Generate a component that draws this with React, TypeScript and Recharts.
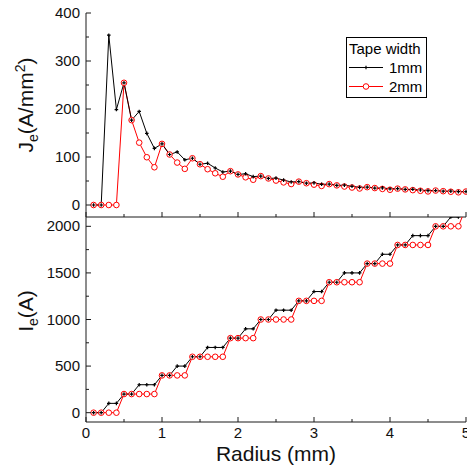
import { LineChart, Line, XAxis, YAxis, Legend } from 'recharts';

// radius (mm), one point every 0.1 mm
const radius = [
  0.1, 0.2, 0.3, 0.4, 0.5, 0.6, 0.7, 0.8, 0.9, 1.0,
  1.1, 1.2, 1.3, 1.4, 1.5, 1.6, 1.7, 1.8, 1.9, 2.0,
  2.1, 2.2, 2.3, 2.4, 2.5, 2.6, 2.7, 2.8, 2.9, 3.0,
  3.1, 3.2, 3.3, 3.4, 3.5, 3.6, 3.7, 3.8, 3.9, 4.0,
  4.1, 4.2, 4.3, 4.4, 4.5, 4.6, 4.7, 4.8, 4.9, 5.0,
];

// engineering current density, A/mm^2
const je1mm = [
  0, 0, 353.7, 198.9, 254.6, 176.8, 194.9, 149.2, 117.9, 127.3,
  105.2, 110.5, 94.2, 97.4, 84.9, 87.0, 77.1, 68.8, 70.5, 63.7,
  65.0, 59.2, 60.2, 55.3, 56.0, 51.8, 48.0, 48.7, 45.4, 46.0,
  43.1, 43.5, 40.9, 41.3, 39.0, 36.8, 37.2, 35.3, 35.6, 33.8,
  34.1, 32.5, 32.7, 31.2, 29.9, 30.1, 28.8, 29.0, 27.8, 28.0,
];
const je2mm = [
  0, 0, 0, 0, 254.6, 176.8, 129.9, 99.5, 78.6, 127.3,
  105.2, 88.4, 75.3, 97.4, 84.9, 74.6, 66.1, 58.9, 70.5, 63.7,
  57.7, 52.6, 60.2, 55.3, 50.9, 47.1, 43.7, 48.7, 45.4, 42.4,
  39.7, 43.5, 40.9, 38.5, 36.4, 34.4, 37.2, 35.3, 33.5, 31.8,
  34.1, 32.5, 31.0, 29.6, 28.3, 30.1, 28.8, 27.6, 26.5, 28.0,
];

// engineering current, A
const ie1mm = [
  0, 0, 100, 100, 200, 200, 300, 300, 300, 400,
  400, 500, 500, 600, 600, 700, 700, 700, 800, 800,
  900, 900, 1000, 1000, 1100, 1100, 1100, 1200, 1200, 1300,
  1300, 1400, 1400, 1500, 1500, 1500, 1600, 1600, 1700, 1700,
  1800, 1800, 1900, 1900, 1900, 2000, 2000, 2100, 2100, 2200,
];
const ie2mm = [
  0, 0, 0, 0, 200, 200, 200, 200, 200, 400,
  400, 400, 400, 600, 600, 600, 600, 600, 800, 800,
  800, 800, 1000, 1000, 1000, 1000, 1000, 1200, 1200, 1200,
  1200, 1400, 1400, 1400, 1400, 1400, 1600, 1600, 1600, 1600,
  1800, 1800, 1800, 1800, 1800, 2000, 2000, 2000, 2000, 2200,
];

const xMajor = [0, 1, 2, 3, 4, 5];
const xMinor = [0.5, 1.5, 2.5, 3.5, 4.5];
const jeMajor = [0, 100, 200, 300, 400];
const jeMinor = [50, 150, 250, 350];
const ieMajor = [0, 500, 1000, 1500, 2000];
const ieMinor = [250, 750, 1250, 1750];

const data = radius.map((r, i) => ({
  r,
  je1: je1mm[i],
  je2: je2mm[i],
  ie1: ie1mm[i],
  ie2: ie2mm[i],
}));

const FONT = '"Liberation Sans", Arial, sans-serif';
const AXIS = '#1a1a1a';
const W = 467;

type Side = 'left' | 'right' | 'top' | 'bottom';

// ticks drawn inward, minor ones shorter; labels only on majors
function makeTick(side: Side, major: number[], showLabel: boolean) {
  return (props: any) => {
    const { x, y, payload } = props;
    const v = payload.value;
    const isMajor = major.some((m) => Math.abs(m - v) < 1e-9);
    const len = isMajor ? 5 : 3;
    let x2 = x;
    let y2 = y;
    if (side === 'left') x2 = x + len;
    if (side === 'right') x2 = x - len;
    if (side === 'top') y2 = y + len;
    if (side === 'bottom') y2 = y - len;
    return (
      <g>
        <line x1={x} y1={y} x2={x2} y2={y2} stroke={AXIS} strokeWidth={1} />
        {showLabel && isMajor && side === 'left' && (
          <text x={x - 6} y={y + 5} textAnchor="end" fontSize={15} fill="#111">
            {v}
          </text>
        )}
        {showLabel && isMajor && side === 'bottom' && (
          <text x={x} y={y + 16} textAnchor="middle" fontSize={15} fill="#111">
            {v}
          </text>
        )}
      </g>
    );
  };
}

const PlusDot = (props: any) => {
  const { cx, cy } = props;
  if (cx == null || cy == null) return <g />;
  return (
    <path
      d={`M${cx - 1.8},${cy}H${cx + 1.8}M${cx},${cy - 1.8}V${cy + 1.8}`}
      stroke="#000"
      strokeWidth={1.2}
    />
  );
};

const OpenCircle = (props: any) => {
  const { cx, cy } = props;
  if (cx == null || cy == null) return <g />;
  return <circle cx={cx} cy={cy} r={2.8} fill="#fff" stroke="#ff0000" strokeWidth={1} />;
};

const LegendBox = ({ payload }: any) => {
  const items = [...(payload || [])].sort((a: any, b: any) =>
    String(a.value).localeCompare(String(b.value))
  );
  return (
    <div
      style={{
        border: '1px solid #000',
        background: '#fff',
        fontFamily: FONT,
        fontSize: 15,
        lineHeight: '19px',
        width: 78,
        padding: '1px 0 1px 1px',
        color: '#000',
      }}
    >
      <div style={{ paddingLeft: 1 }}>Tape width</div>
      {items.map((p: any) => (
        <div key={p.value} style={{ display: 'flex', alignItems: 'center', height: 19 }}>
          <svg width={36} height={19}>
            <line x1={1} y1={9.5} x2={35} y2={9.5} stroke={p.color} strokeWidth={1} />
            {p.value === '1mm' ? (
              <PlusDot cx={18} cy={9.5} />
            ) : (
              <OpenCircle cx={18} cy={9.5} />
            )}
          </svg>
          <span style={{ marginLeft: 5 }}>{p.value}</span>
        </div>
      ))}
    </div>
  );
};

const JeTitle = () => (
  <text
    transform="translate(33,105) rotate(-90)"
    textAnchor="middle"
    fontSize={21}
    fill="#111"
    fontFamily={FONT}
  >
    J<tspan fontSize={14} dy={5}>e</tspan>
    <tspan dy={-5}>(A/mm</tspan>
    <tspan fontSize={14} dy={-8}>2</tspan>
    <tspan dy={8}>)</tspan>
  </text>
);

const IeTitle = () => (
  <text
    transform="translate(33,94) rotate(-90)"
    textAnchor="middle"
    fontSize={21}
    fill="#111"
    fontFamily={FONT}
  >
    I<tspan fontSize={14} dy={5}>e</tspan>
    <tspan dy={-5}>(A)</tspan>
  </text>
);

export default function App() {
  const xTicks = [...xMajor, ...xMinor].sort((a, b) => a - b);
  const jeTicks = [...jeMajor, ...jeMinor].sort((a, b) => a - b);
  const ieTicks = [...ieMajor, ...ieMinor].sort((a, b) => a - b);

  return (
    <div
      style={{
        position: 'absolute',
        left: 0,
        top: 0,
        width: W,
        height: 469,
        background: '#fff',
        fontFamily: FONT,
      }}
    >
      {/* upper panel: Je */}
      <div style={{ position: 'absolute', left: 0, top: 0 }}>
        <LineChart width={W} height={218} data={data} margin={{ top: 13, right: 1, bottom: 0, left: 0 }}>
          <XAxis
            xAxisId="bottom"
            dataKey="r"
            type="number"
            domain={[0, 5]}
            ticks={xTicks}
            interval={0}
            height={1}
            tickSize={0}
            tickMargin={0}
            tickLine={false}
            axisLine={{ stroke: AXIS }}
            tick={makeTick('bottom', xMajor, false)}
          />
          <XAxis
            xAxisId="top"
            orientation="top"
            dataKey="r"
            type="number"
            domain={[0, 5]}
            ticks={xTicks}
            interval={0}
            height={0}
            tickSize={0}
            tickMargin={0}
            tickLine={false}
            axisLine={{ stroke: AXIS }}
            tick={makeTick('top', xMajor, false)}
          />
          <YAxis
            yAxisId="left"
            type="number"
            domain={[-25, 400]}
            allowDataOverflow
            ticks={jeTicks}
            interval={0}
            width={86}
            tickSize={0}
            tickMargin={0}
            tickLine={false}
            axisLine={{ stroke: AXIS }}
            tick={makeTick('left', jeMajor, true)}
            label={{ content: <JeTitle /> }}
          />
          <YAxis
            yAxisId="right"
            orientation="right"
            type="number"
            domain={[-25, 400]}
            allowDataOverflow
            ticks={jeTicks}
            interval={0}
            width={0}
            tickSize={0}
            tickMargin={0}
            tickLine={false}
            axisLine={{ stroke: AXIS }}
            tick={makeTick('right', jeMajor, false)}
          />
          <Legend
            layout="vertical"
            align="center"
            verticalAlign="middle"
            wrapperStyle={{ left: 346, top: 37, width: 'auto' }}
            content={<LegendBox />}
          />
          <Line
            xAxisId="bottom"
            yAxisId="left"
            name="2mm"
            dataKey="je2"
            type="linear"
            stroke="#ff0000"
            strokeWidth={1}
            dot={<OpenCircle />}
            activeDot={false}
            isAnimationActive={false}
          />
          <Line
            xAxisId="bottom"
            yAxisId="left"
            name="1mm"
            dataKey="je1"
            type="linear"
            stroke="#000"
            strokeWidth={1}
            dot={<PlusDot />}
            activeDot={false}
            isAnimationActive={false}
          />
        </LineChart>
      </div>

      {/* lower panel: Ie */}
      <div style={{ position: 'absolute', left: 0, top: 217 }}>
        <LineChart width={W} height={252} data={data} margin={{ top: 0, right: 1, bottom: 0, left: 0 }}>
          <XAxis
            xAxisId="bottom"
            dataKey="r"
            type="number"
            domain={[0, 5]}
            ticks={xTicks}
            interval={0}
            height={47}
            tickSize={0}
            tickMargin={0}
            tickLine={false}
            axisLine={{ stroke: AXIS }}
            tick={makeTick('bottom', xMajor, true)}
            label={{
              value: 'Radius (mm)',
              position: 'insideBottom',
              offset: 8,
              fontSize: 21,
              fill: '#111',
            }}
          />
          <XAxis
            xAxisId="top"
            orientation="top"
            dataKey="r"
            type="number"
            domain={[0, 5]}
            ticks={xTicks}
            interval={0}
            height={0}
            tickSize={0}
            tickMargin={0}
            tickLine={false}
            axisLine={{ stroke: AXIS }}
            tick={makeTick('top', xMajor, false)}
          />
          <YAxis
            yAxisId="left"
            type="number"
            domain={[-100, 2100]}
            allowDataOverflow
            ticks={ieTicks}
            interval={0}
            width={86}
            tickSize={0}
            tickMargin={0}
            tickLine={false}
            axisLine={{ stroke: AXIS }}
            tick={makeTick('left', ieMajor, true)}
            label={{ content: <IeTitle /> }}
          />
          <YAxis
            yAxisId="right"
            orientation="right"
            type="number"
            domain={[-100, 2100]}
            allowDataOverflow
            ticks={ieTicks}
            interval={0}
            width={0}
            tickSize={0}
            tickMargin={0}
            tickLine={false}
            axisLine={{ stroke: AXIS }}
            tick={makeTick('right', ieMajor, false)}
          />
          <Line
            xAxisId="bottom"
            yAxisId="left"
            name="2mm"
            dataKey="ie2"
            type="linear"
            stroke="#ff0000"
            strokeWidth={1}
            dot={<OpenCircle />}
            activeDot={false}
            isAnimationActive={false}
          />
          <Line
            xAxisId="bottom"
            yAxisId="left"
            name="1mm"
            dataKey="ie1"
            type="linear"
            stroke="#000"
            strokeWidth={1}
            dot={<PlusDot />}
            activeDot={false}
            isAnimationActive={false}
          />
        </LineChart>
      </div>
    </div>
  );
}
